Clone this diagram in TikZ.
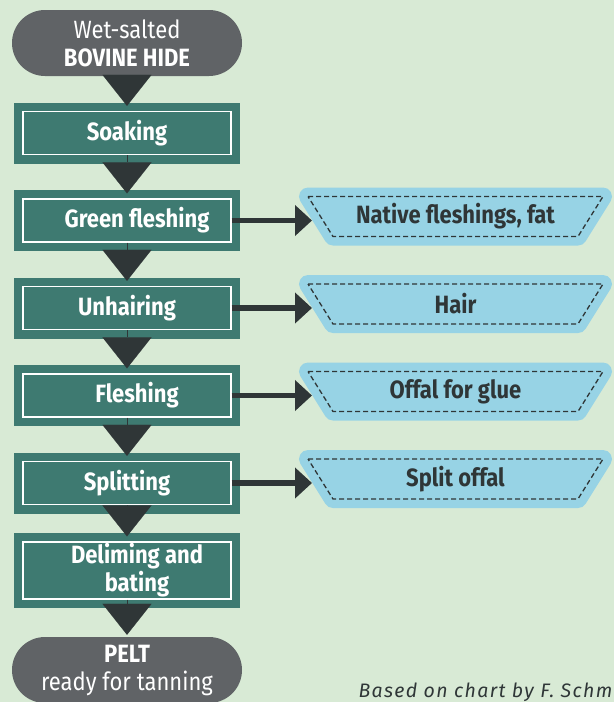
\documentclass[tikz,border=0pt]{standalone}
\usepackage{fontspec}
\setmainfont{Fira Sans}[FakeStretch=0.88]
\newfontfamily\creditfont{Fira Sans}[LetterSpace=7]
\usetikzlibrary{shapes.misc}
\usetikzlibrary{calc}
\usetikzlibrary{positioning}
\usetikzlibrary{arrows.meta}
\definecolor{bgmint}{HTML}{D8EAD5}
\definecolor{stepteal}{HTML}{3E7A71}
\definecolor{pointerdark}{HTML}{2F3637}
\definecolor{hidegray}{HTML}{606366}
\definecolor{wasteblue}{HTML}{97D3E5}
\providecommand\nudge{\hspace*{20pt}}
\providecommand\bigfont{\fontsize{25}{28}\selectfont}

\begin{document}
\begin{tikzpicture}[x = 1pt, y = 1pt, on grid,
        stepbox/.style = {rectangle, draw = white, line width = 1.3pt, fill = stepteal,
            preaction = {draw = stepteal, line width = 18pt},
            minimum width = 208pt, minimum height = 43pt, inner sep = 0pt,
            text = white, font = \bigfont\bfseries, align = center},
        endcap/.style = {rounded rectangle, fill = hidegray, text = white,
            minimum width = 230pt, minimum height = 66pt, inner sep = 0pt,
            font = \bigfont, align = center},
        wastetray/.style = {fill = wasteblue, draw = pointerdark, line width = 1.3pt,
            dash pattern = on 5pt off 3pt,
            preaction = {draw = wasteblue, solid, line width = 18pt, line join = round}},
        wastetext/.style = {text = pointerdark, font = \bigfont\bfseries, inner sep = 0pt},
        down/.style = {pointerdark, line width = 0.1pt, -{Triangle[length = 31pt, width = 49pt]}},
        side/.style = {pointerdark, line width = 5.5pt, -{Triangle[length = 17pt, width = 30pt]}},
    ]
    \useasboundingbox (0,0) rectangle (614,-702);
    \fill[bgmint] (0,0) rectangle (614,-702);
    \clip (0,0) rectangle (614,-702);

    % main line of work
    \node (soak) at (127,-133) [stepbox] {Soaking};
    \node (hide) [endcap, above = 90pt of soak] {Wet-salted\\\textbf{BOVINE HIDE}};
    \node (gflesh) [stepbox, below = 87.5pt of soak] {\nudge Green fleshing};
    \node (unhair) [stepbox, below = 87.5pt of gflesh] {Unhairing};
    \node (flesh) [stepbox, below = 87.5pt of unhair] {\nudge Fleshing};
    \node (split) [stepbox, below = 87.5pt of flesh] {Splitting};
    \node (delime) [stepbox, below = 87.5pt of split, minimum height = 57pt] {\nudge Deliming and\\\nudge bating};
    \node (pelt) [endcap, below = 99.5pt of delime] {\textbf{PELT}\\ready for tanning};

    \draw[down] (hide.south) -- ([yshift = 5pt]soak.north);
    \foreach \a/\b in {soak/gflesh, gflesh/unhair, unhair/flesh, flesh/split, split/delime}
        \draw[down] (\a.south) -- ([yshift = 5pt]\b.north);
    \draw[down] (delime.south) -- ([yshift = 2pt]pelt.north);

    % by-products
    \foreach \a/\b/\what in {gflesh/fat/{Native fleshings, fat}, unhair/hair/Hair,
            flesh/glue/{Offal for glue}, split/offal/{Split offal}} {
        \coordinate (\b mid) at ($(\a) + (328.5,4)$);
        \path[wastetray] ($(\b mid) + (-147.5,20)$) -- ++(295,0) -- ++(-25,-40) -- ++(-245,0) -- cycle;
        \node (\b) at (\b mid) [wastetext] {\what};
        \draw[side] (\a.east) -- ($(\a.east -| \b mid) + (-143.5,0)$);
    }

    \node (credit) at (355,-697) [anchor = base west, text = pointerdark,
        font = \fontsize{19.5}{22}\creditfont\itshape] {Based on chart by F. Schm};
\end{tikzpicture}
\end{document}
